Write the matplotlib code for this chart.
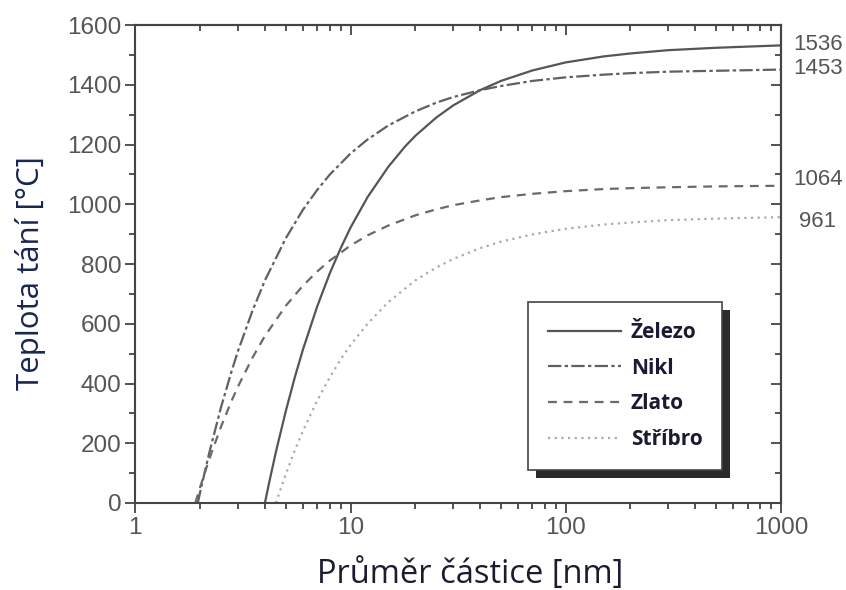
import matplotlib
matplotlib.use("Agg")
from matplotlib import pyplot as plt
from matplotlib.patches import Rectangle
from matplotlib.ticker import LogLocator, MultipleLocator, NullFormatter, FixedLocator

# values (diameter in nm, melting point in deg C)
d_fe = [4.0, 4.2, 4.5, 5, 5.5, 6, 7, 8, 9, 10, 12, 15, 18, 20, 25, 30, 40, 50, 70, 100, 150, 200, 300, 500, 1000]
t_fe = [0, 73, 171, 307, 419, 512, 658, 768, 853, 922, 1024, 1126, 1195, 1229, 1290, 1331, 1382, 1413, 1448, 1475, 1495, 1505, 1516, 1524, 1532]

d_ni = [1.95, 2, 2.2, 2.5, 2.8, 3, 3.5, 4, 5, 6, 7, 8, 10, 12, 15, 20, 25, 30, 40, 50, 70, 100, 150, 200, 300, 500, 1000]
t_ni = [0, 36, 165, 320, 441, 509, 643, 745, 886, 981, 1048, 1099, 1170, 1217, 1264, 1311, 1340, 1359, 1382, 1396, 1413, 1425, 1434, 1439, 1444, 1447, 1451]

d_au = [1.9, 2, 2.2, 2.5, 2.8, 3, 3.5, 4, 5, 6, 7, 8, 10, 12, 15, 20, 25, 30, 40, 50, 70, 100, 150, 200, 300, 500, 1000]
t_au = [0, 53, 145, 255, 342, 390, 486, 559, 660, 727, 775, 811, 862, 896, 929, 963, 983, 997, 1013, 1024, 1035, 1044, 1051, 1054, 1057, 1060, 1062]

d_ag = [4.5, 4.8, 5, 5.5, 6, 7, 8, 9, 10, 12, 15, 20, 25, 30, 40, 50, 70, 100, 150, 200, 300, 500, 1000]
t_ag = [0, 60, 96, 175, 240, 343, 420, 481, 529, 600, 673, 745, 788, 817, 853, 875, 899, 918, 932, 939, 947, 952, 957]

names = ["Železo", "Nikl", "Zlato", "Stříbro"]
bulk_labels = ["1536", "1453", "1064", "961"]
bulk_values = [1536, 1453, 1064, 961]

fig = plt.figure(figsize=(8.46, 5.90), dpi=100)
ax = fig.add_axes([0.16, 0.1475, 0.763, 0.81])

ax.plot(d_fe, t_fe, color="#555555", lw=1.6, ls="-", label=names[0])
ax.plot(d_ni, t_ni, color="#606060", lw=1.6, ls=(0, (6, 1.5, 1.5, 1.5)), label=names[1])
ax.plot(d_au, t_au, color="#6a6a6a", lw=1.6, ls=(0, (4, 3)), label=names[2])
ax.plot(d_ag, t_ag, color="#aaaaaa", lw=1.6, ls=(0, (1, 2)), label=names[3])

ax.set_xscale("log")
ax.set_xlim(1, 1000)
ax.set_ylim(0, 1600)
ax.xaxis.set_major_locator(FixedLocator([1, 10, 100, 1000]))
ax.set_xticklabels(["1", "10", "100", "1000"])
ax.xaxis.set_minor_locator(LogLocator(base=10, subs=range(2, 10)))
ax.xaxis.set_minor_formatter(NullFormatter())
ax.yaxis.set_major_locator(MultipleLocator(200))
ax.yaxis.set_minor_locator(MultipleLocator(100))

for lab in ax.get_xticklabels() + ax.get_yticklabels():
    lab.set_fontfamily("Liberation Sans")
    lab.set_fontsize(17.5)
    lab.set_color("#555555")

ax.tick_params(which="both", direction="out", color="#444444", width=1.3)
ax.tick_params(which="major", length=7, pad=3)
ax.tick_params(which="minor", length=4)
for sp in ax.spines.values():
    sp.set_color("#444444")
    sp.set_linewidth(1.5)

# mirrored ticks pointing inward on top and right
top = ax.secondary_xaxis("top")
top.xaxis.set_major_locator(FixedLocator([1, 10, 100, 1000]))
top.xaxis.set_minor_locator(LogLocator(base=10, subs=range(2, 10)))
top.xaxis.set_major_formatter(NullFormatter())
top.xaxis.set_minor_formatter(NullFormatter())
top.tick_params(which="both", direction="in", color="#444444", width=1.3)
top.tick_params(which="major", length=7)
top.tick_params(which="minor", length=4)
right = ax.secondary_yaxis("right")
right.yaxis.set_major_locator(MultipleLocator(200))
right.yaxis.set_minor_locator(MultipleLocator(100))
right.yaxis.set_major_formatter(NullFormatter())
right.tick_params(which="both", direction="in", color="#444444", width=1.3)
right.tick_params(which="major", length=7)
right.tick_params(which="minor", length=4)
for s in (top, right):
    for sp in s.spines.values():
        sp.set_color("#444444")
        sp.set_linewidth(1.5)

# bulk melting points written beside the right edge
offsets = [(9, 0), (9, 0), (9, 4), (13, -4)]
for lab, val, off in zip(bulk_labels, bulk_values, offsets):
    ax.annotate(lab, xy=(1000, val), xycoords="data", xytext=off,
                textcoords="offset points", va="center", ha="left",
                fontfamily="Liberation Sans", fontsize=16, color="#555555",
                annotation_clip=False)

ax.set_xlabel("Průměr částice [nm]", fontfamily="Open Sans", fontsize=23.5,
              color="#1c1c30")
ax.xaxis.set_label_coords(0.519, -0.115)
ax.set_ylabel("Teplota tání [°C]", fontfamily="Open Sans", fontsize=22.5,
              color="#1a2550")
ax.yaxis.set_label_coords(-0.139, 0.481)

leg = ax.legend(loc="upper left", bbox_to_anchor=(0.608, 0.42), borderaxespad=0,
                frameon=True, fancybox=False, edgecolor="#444444",
                handlelength=3.5, handletextpad=0.5, labelspacing=0.7,
                borderpad=0.95,
                prop={"family": "Open Sans", "weight": "bold", "size": 15})
leg.get_frame().set_linewidth(1.2)
leg.get_frame().set_alpha(1)
leg.set_zorder(5)
for t in leg.get_texts():
    t.set_color("#1a1a30")

# dark drop shadow under the legend box, offset right and down
fig.canvas.draw()
bb = leg.get_window_extent().transformed(fig.transFigure.inverted())
dx, dy = 8 / 846, 8 / 590
ax.add_patch(Rectangle((bb.x0 + dx, bb.y0 - dy), bb.width, bb.height,
                       transform=fig.transFigure, facecolor="#2a2a2a",
                       edgecolor="none", zorder=4, clip_on=False))

fig.savefig("out.png", dpi=100)
